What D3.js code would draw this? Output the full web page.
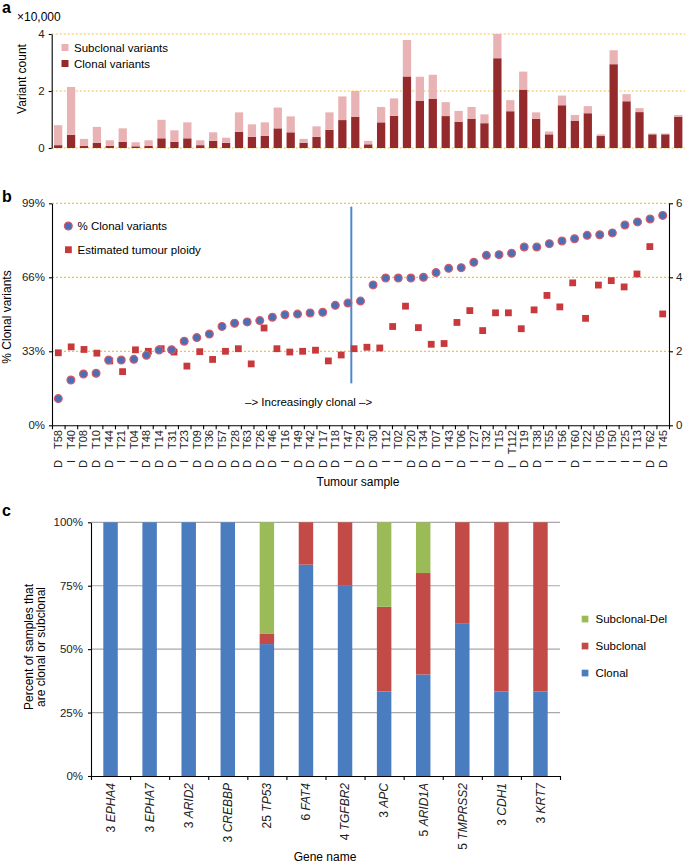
<!DOCTYPE html>
<meta charset="utf-8">
<style>
body{margin:0;background:#fff;}
svg{font-family:"Liberation Sans",Arial,sans-serif;}
.grid line{stroke:#f0c43c;stroke-dasharray:2,2;stroke-width:1.2;}
.gridc line{stroke:#a8a8a8;stroke-width:1.2;}
.axis path,.axis line{stroke:#000;stroke-width:1.1;}
.axis text{font-size:11.5px;fill:#222;font-family:"Liberation Sans",Arial,sans-serif;}
</style>
<svg width="685" height="863"></svg>
<script src="https://d3js.org/d3.v7.min.js"></script>
<script>
// ---- data ----
var samples = ["T58","T40","T08","T10","T44","T21","T04","T48","T14","T31","T23","T09","T36","T57","T28","T63","T26","T46","T16","T49","T42","T17","T18","T47",
  "T29","T30","T12","T02","T20","T34","T07","T43","T06","T27","T32","T15","T112","T19","T38","T55","T56","T60","T22","T05","T50","T25","T13","T62","T45"];
var sampleType = ["D","I","D","D","D","I","I","D","D","D","I","D","D","D","D","D","D","D","I","D","D","D","D","I",
  "D","D","I","I","D","D","D","I","D","I","I","D","I","D","D","I","I","D","I","I","I","I","I","D","D"];

// panel a, variant counts in units of 10,000
var clonalVariants = [0.10,0.46,0.08,0.18,0.08,0.22,0.06,0.08,0.34,0.22,0.34,0.10,0.25,0.18,0.57,0.39,0.43,0.69,0.55,0.18,0.39,0.64,0.98,1.10,
  0.13,0.90,1.13,2.51,1.66,1.72,1.12,0.92,1.03,0.87,3.15,1.29,2.05,1.02,0.48,1.50,0.96,1.22,0.42,2.94,1.64,1.26,0.48,0.48,1.10];
var subclonalVariants = [0.70,1.68,0.24,0.56,0.19,0.47,0.14,0.19,0.65,0.40,0.56,0.17,0.30,0.18,0.68,0.44,0.47,0.73,0.56,0.14,0.37,0.61,0.83,0.90,
  0.12,0.54,0.61,1.28,0.84,0.85,0.49,0.38,0.41,0.31,0.85,0.39,0.63,0.23,0.10,0.34,0.20,0.25,0.06,0.49,0.25,0.14,0.03,0.03,0.06];

// panel b
var pctClonal = [11.9,20.2,22.9,23.2,29.1,29.1,29.4,31.2,33.6,33.7,37.5,39.1,40.7,44.1,45.5,46.1,46.7,48.2,49.3,49.6,50.1,50.4,53.5,54.5,
  55.4,62.6,65.7,65.7,65.7,66.0,68.1,70.0,70.3,72.7,75.8,76.1,76.7,79.5,79.5,81.0,82.2,83.2,84.7,85.0,85.8,89.3,90.7,92.0,93.6];
var ploidy = [1.96,2.12,2.05,1.95,1.74,1.45,2.04,2.00,2.07,1.98,1.60,1.99,1.78,2.00,2.07,1.66,2.63,2.07,1.98,2.00,2.03,1.74,1.90,
  2.07,2.11,2.09,2.67,3.22,2.64,2.19,2.21,2.78,3.10,2.56,3.04,3.04,2.61,3.12,3.51,3.20,3.85,2.89,3.79,3.91,3.74,4.09,4.83,3.01];
var splitAfter = "T47";

// panel c
var geneCounts = [3,3,3,3,25,6,4,3,5,5,3,3];
var geneNames = ["EPHA4","EPHA7","ARID2","CREBBP","TP53","FAT4","TGFBR2","APC","ARID1A","TMPRSS2","CDH1","KRT7"];
var clonalPct = [100,100,100,100,52,83.3,75,33.3,40,60,33.3,33.3];
var subclonalPct = [0,0,0,0,4,16.7,25,33.4,40,40,66.7,66.7];
var subclonalDelPct = [0,0,0,0,44,0,0,33.3,20,0,0,0];

var svg = d3.select("svg");
var dark = "#952a2d", light = "#e9b3b5";
var blue = "#4a7cc0", red = "#c24b48", green = "#9bbb59";

function panelLetter(t, y){
  svg.append("text").attr("x", 2).attr("y", y).attr("font-size", 16).attr("font-weight", "bold").text(t);
}

// ================= panel a =================
panelLetter("a", 13);
var xa = d3.scaleBand().domain(samples).range([51.7, 684.7]).paddingInner(0.36).paddingOuter(0.18);
var ya = d3.scaleLinear().domain([0, 4]).range([148, 34]);

svg.append("g").attr("class", "grid").selectAll("line").data([0, 2, 4]).enter().append("line")
  .attr("x1", 51.7).attr("x2", 685).attr("y1", d => ya(d)).attr("y2", d => ya(d));

var ga = svg.append("g");
ga.selectAll(".cl").data(samples).enter().append("rect")
  .attr("x", d => xa(d)).attr("width", xa.bandwidth())
  .attr("y", (d, i) => ya(clonalVariants[i])).attr("height", (d, i) => ya(0) - ya(clonalVariants[i]))
  .attr("fill", dark);
ga.selectAll(".sc").data(samples).enter().append("rect")
  .attr("x", d => xa(d)).attr("width", xa.bandwidth())
  .attr("y", (d, i) => ya(clonalVariants[i] + subclonalVariants[i]))
  .attr("height", (d, i) => ya(clonalVariants[i]) - ya(clonalVariants[i] + subclonalVariants[i]))
  .attr("fill", light);

svg.append("g").attr("class", "axis").attr("transform", "translate(51.7,0)")
  .call(d3.axisLeft(ya).tickValues([0, 2, 4]).tickFormat(d3.format("d")).tickSize(3).tickSizeOuter(0).tickPadding(4));
svg.append("text").attr("x", 17).attr("y", 21).attr("font-size", 12).text("×10,000");
svg.append("text").attr("transform", "translate(26,79) rotate(-90)").attr("text-anchor", "middle")
  .attr("font-size", 12).text("Variant count");

var legA = [["Subclonal variants", light], ["Clonal variants", dark]];
legA.forEach(function(d, i){
  svg.append("rect").attr("x", 61.5).attr("y", 44 + i * 16).attr("width", 7).attr("height", 7).attr("fill", d[1]);
  svg.append("text").attr("x", 74).attr("y", 51.5 + i * 16).attr("font-size", 11.5).text(d[0]);
});

// ================= panel b =================
panelLetter("b", 202);
var xb = d3.scaleBand().domain(samples).range([52, 669]);
var xbi = d3.scaleLinear().domain([0, samples.length]).range([52, 669]);
var xp = d3.scalePoint().domain(d3.range(ploidy.length))
  .range([xb(samples[0]) + xb.bandwidth() / 2, xb(samples[samples.length - 1]) + xb.bandwidth() / 2]);
var yb = d3.scaleLinear().domain([0, 99]).range([425.3, 203.3]);
var yr = d3.scaleLinear().domain([0, 6]).range([425.3, 203.3]);

svg.append("g").attr("class", "grid").selectAll("line").data([33, 66, 99]).enter().append("line")
  .attr("x1", 52).attr("x2", 669).attr("y1", d => yb(d)).attr("y2", d => yb(d));

svg.append("g").attr("class", "axis").attr("transform", "translate(52,0)")
  .call(d3.axisLeft(yb).tickValues([0, 33, 66, 99]).tickFormat(d => d + "%").tickSize(3).tickSizeOuter(0).tickPadding(4));
svg.append("g").attr("class", "axis").attr("transform", "translate(669,0)")
  .call(d3.axisRight(yr).tickValues([0, 2, 4, 6]).tickFormat(d3.format("d")).tickSize(4).tickSizeOuter(0).tickPadding(3));
svg.append("g").attr("class", "axis").attr("transform", "translate(0,425.3)")
  .call(d3.axisBottom(xbi).tickValues(d3.range(0, samples.length + 1)).tickFormat("").tickSize(4).tickSizeOuter(0));

// split line
var splitX = xb(splitAfter) + xb.bandwidth() / 2 + xb.step() * 0.27;
svg.append("line").attr("x1", splitX).attr("x2", splitX).attr("y1", yb(97.5)).attr("y2", yb(18.7))
  .attr("stroke", "#4f88c6").attr("stroke-width", 2);
svg.append("text").attr("x", 245).attr("y", 406).attr("font-size", 11.5).text("–> Increasingly clonal –>");

svg.append("g").selectAll("rect").data(ploidy).enter().append("rect")
  .attr("x", (d, i) => xp(i) - 3.4).attr("y", d => yr(d) - 3.4).attr("width", 6.8).attr("height", 6.8)
  .attr("fill", "#c7393c");
svg.append("g").selectAll("circle").data(pctClonal).enter().append("circle")
  .attr("cx", (d, i) => xb(samples[i]) + xb.bandwidth() / 2).attr("cy", d => yb(d)).attr("r", 3.9)
  .attr("fill", "#4a6fb6").attr("stroke", "#d75a66").attr("stroke-width", 1.2);

// sample labels
var lab = svg.append("g").selectAll("text").data(samples).enter().append("text")
  .attr("transform", d => "translate(" + (xb(d) + xb.bandwidth() / 2) + ",430) rotate(-90)")
  .attr("text-anchor", "end").attr("dy", "0.36em").attr("font-size", 11).attr("fill", "#222");
lab.append("tspan").text((d, i) => sampleType[i]);
lab.append("tspan").attr("dx", 11).text(d => d);
svg.append("text").attr("x", 358).attr("y", 486).attr("text-anchor", "middle").attr("font-size", 12).text("Tumour sample");
svg.append("text").attr("transform", "translate(11,317) rotate(-90)").attr("text-anchor", "middle")
  .attr("font-size", 12).text("% Clonal variants");

var legB = svg.append("g");
legB.append("circle").attr("cx", 68.3).attr("cy", 226).attr("r", 3.9).attr("fill", "#4a6fb6").attr("stroke", "#d75a66").attr("stroke-width", 1.2);
legB.append("text").attr("x", 77.5).attr("y", 230).attr("font-size", 11.5).text("% Clonal variants");
legB.append("rect").attr("x", 65).attr("y", 246.3).attr("width", 6.8).attr("height", 6.8).attr("fill", "#c7393c");
legB.append("text").attr("x", 77.5).attr("y", 254).attr("font-size", 11.5).text("Estimated tumour ploidy");

// ================= panel c =================
panelLetter("c", 516);
var geneLabels = geneNames.map((g, i) => geneCounts[i] + " " + g);
var xc = d3.scaleBand().domain(geneLabels).range([91, 560]).paddingInner(0.63).paddingOuter(0.315);
var xci = d3.scaleLinear().domain([0, geneLabels.length]).range([91, 560]);
var yc = d3.scaleLinear().domain([0, 100]).range([776, 522.3]);

svg.append("g").attr("class", "gridc").selectAll("line").data([25, 50, 75, 100]).enter().append("line")
  .attr("x1", 91).attr("x2", 560).attr("y1", d => yc(d)).attr("y2", d => yc(d));

var rows = geneLabels.map((g, i) => ({gene: g, Clonal: clonalPct[i], Subclonal: subclonalPct[i], "Subclonal-Del": subclonalDelPct[i]}));
var keys = ["Clonal", "Subclonal", "Subclonal-Del"];
var colC = d3.scaleOrdinal().domain(keys).range([blue, red, green]);
var stacked = d3.stack().keys(keys)(rows);
svg.append("g").selectAll("g").data(stacked).enter().append("g").attr("fill", d => colC(d.key))
  .selectAll("rect").data(d => d).enter().append("rect")
  .attr("x", d => xc(d.data.gene)).attr("width", xc.bandwidth())
  .attr("y", d => yc(d[1])).attr("height", d => yc(d[0]) - yc(d[1]));

svg.append("g").attr("class", "axis").attr("transform", "translate(91,0)")
  .call(d3.axisLeft(yc).tickValues([0, 25, 50, 75, 100]).tickFormat(d => d + "%").tickSize(3).tickSizeOuter(0).tickPadding(5));
svg.append("g").attr("class", "axis").attr("transform", "translate(0,776)")
  .call(d3.axisBottom(xci).tickValues(d3.range(0, geneLabels.length + 1)).tickFormat("").tickSize(4).tickSizeOuter(0));

var gl = svg.append("g").selectAll("text").data(geneLabels).enter().append("text")
  .attr("transform", d => "translate(" + (xc(d) + xc.bandwidth() / 2) + ",783) rotate(-90)")
  .attr("text-anchor", "end").attr("dy", "0.36em").attr("font-size", 12).attr("fill", "#222");
gl.append("tspan").text((d, i) => geneCounts[i] + " ");
gl.append("tspan").attr("font-style", "italic").text((d, i) => geneNames[i]);

svg.append("text").attr("x", 325).attr("y", 861).attr("text-anchor", "middle").attr("font-size", 12).text("Gene name");
svg.append("text").attr("transform", "translate(33,647) rotate(-90)").attr("text-anchor", "middle")
  .attr("font-size", 12).text("Percent of samples that");
svg.append("text").attr("transform", "translate(45,647) rotate(-90)").attr("text-anchor", "middle")
  .attr("font-size", 12).text("are clonal or subclonal");

var legC = keys.slice().reverse();
legC.forEach(function(k, i){
  svg.append("rect").attr("x", 581.7).attr("y", 615.7 + i * 27).attr("width", 6.7).attr("height", 6.7).attr("fill", colC(k));
  svg.append("text").attr("x", 595.5).attr("y", 623 + i * 27).attr("font-size", 11.5).text(k);
});
</script>
